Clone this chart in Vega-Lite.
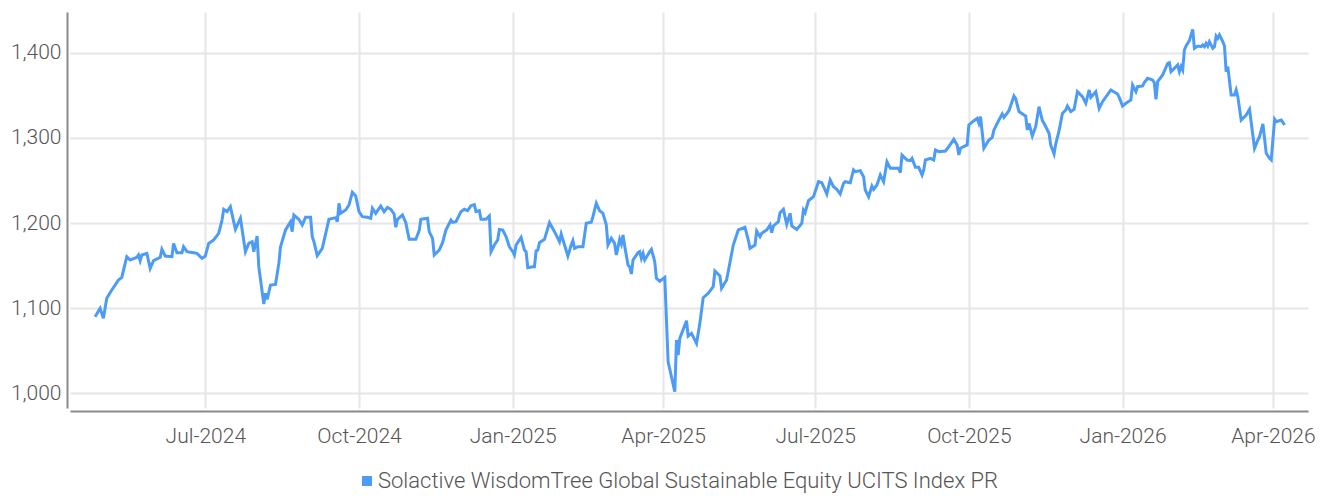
{
  "$schema": "https://vega.github.io/schema/vega-lite/v6.json",
  "width": 1238,
  "height": 396,
  "autosize": {"type": "none"},
  "padding": {"left": 70, "top": 12, "right": 22, "bottom": 88},
  "background": "white",
  "config": {
    "view": {"stroke": null},
    "font": "Roboto",
    "axis": {"labelFont": "Roboto", "labelFontSize": 21, "labelFontWeight": 300, "labelColor": "#555555", "gridColor": "#e6e6e6", "gridWidth": 2, "domainColor": "#8a8a8a", "domainWidth": 2, "ticks": false, "title": null}
  },
  "data": {"values": [
{"date":"2024-04-26","value":1089.8},{"date":"2024-04-29","value":1099.6},{"date":"2024-05-01","value":1087.9},{"date":"2024-05-03","value":1111.4},{"date":"2024-05-06","value":1121.2},{"date":"2024-05-08","value":1127},{"date":"2024-05-10","value":1133},{"date":"2024-05-12","value":1136},{"date":"2024-05-15","value":1160.4},{"date":"2024-05-17","value":1156.5},{"date":"2024-05-21","value":1159.6},{"date":"2024-05-22","value":1162.4},{"date":"2024-05-23","value":1155.7},{"date":"2024-05-24","value":1162.4},{"date":"2024-05-27","value":1164.3},{"date":"2024-05-29","value":1146.7},{"date":"2024-05-31","value":1155.7},{"date":"2024-06-04","value":1159.6},{"date":"2024-06-05","value":1169},{"date":"2024-06-07","value":1161.2},{"date":"2024-06-11","value":1160.4},{"date":"2024-06-12","value":1176},{"date":"2024-06-14","value":1165.1},{"date":"2024-06-17","value":1165},{"date":"2024-06-18","value":1172.1},{"date":"2024-06-20","value":1166.3},{"date":"2024-06-24","value":1165.1},{"date":"2024-06-26","value":1164.3},{"date":"2024-06-29","value":1158.4},{"date":"2024-07-01","value":1161.2},{"date":"2024-07-03","value":1176},{"date":"2024-07-06","value":1180},{"date":"2024-07-09","value":1187.9},{"date":"2024-07-11","value":1203.5},{"date":"2024-07-12","value":1216.1},{"date":"2024-07-14","value":1213.3},{"date":"2024-07-16","value":1219.2},{"date":"2024-07-19","value":1192.5},{"date":"2024-07-22","value":1205.5},{"date":"2024-07-25","value":1166.3},{"date":"2024-07-27","value":1176},{"date":"2024-07-29","value":1178},{"date":"2024-07-30","value":1166.3},{"date":"2024-08-01","value":1184.7},{"date":"2024-08-02","value":1148.6},{"date":"2024-08-05","value":1104.7},{"date":"2024-08-06","value":1117.3},{"date":"2024-08-07","value":1110.2},{"date":"2024-08-09","value":1127},{"date":"2024-08-12","value":1127.8},{"date":"2024-08-14","value":1152.5},{"date":"2024-08-15","value":1172.1},{"date":"2024-08-18","value":1191.8},{"date":"2024-08-21","value":1201.6},{"date":"2024-08-22","value":1189.8},{"date":"2024-08-23","value":1209.4},{"date":"2024-08-26","value":1204.3},{"date":"2024-08-28","value":1197.6},{"date":"2024-08-30","value":1206.7},{"date":"2024-09-02","value":1206.7},{"date":"2024-09-03","value":1184},{"date":"2024-09-04","value":1178},{"date":"2024-09-06","value":1161.6},{"date":"2024-09-09","value":1170.2},{"date":"2024-09-13","value":1204.3},{"date":"2024-09-17","value":1206.3},{"date":"2024-09-18","value":1201.6},{"date":"2024-09-19","value":1223.1},{"date":"2024-09-20","value":1211.4},{"date":"2024-09-23","value":1215.3},{"date":"2024-09-25","value":1221.2},{"date":"2024-09-27","value":1236.1},{"date":"2024-09-29","value":1231.8},{"date":"2024-10-01","value":1213.3},{"date":"2024-10-03","value":1207.4},{"date":"2024-10-06","value":1206.7},{"date":"2024-10-08","value":1205.5},{"date":"2024-10-09","value":1217.3},{"date":"2024-10-11","value":1211.4},{"date":"2024-10-14","value":1220},{"date":"2024-10-16","value":1213.3},{"date":"2024-10-18","value":1218.4},{"date":"2024-10-20","value":1216.1},{"date":"2024-10-22","value":1210.6},{"date":"2024-10-23","value":1195},{"date":"2024-10-24","value":1204.3},{"date":"2024-10-27","value":1209.4},{"date":"2024-10-29","value":1200.4},{"date":"2024-10-31","value":1180.8},{"date":"2024-11-04","value":1180.8},{"date":"2024-11-06","value":1191},{"date":"2024-11-07","value":1204.3},{"date":"2024-11-11","value":1205.5},{"date":"2024-11-12","value":1189.8},{"date":"2024-11-14","value":1182},{"date":"2024-11-15","value":1162.4},{"date":"2024-11-18","value":1168.2},{"date":"2024-11-20","value":1176.8},{"date":"2024-11-22","value":1191.8},{"date":"2024-11-25","value":1203.5},{"date":"2024-11-26","value":1200.8},{"date":"2024-11-28","value":1201.6},{"date":"2024-12-01","value":1213.3},{"date":"2024-12-03","value":1216.1},{"date":"2024-12-05","value":1214.5},{"date":"2024-12-07","value":1220.4},{"date":"2024-12-09","value":1221.6},{"date":"2024-12-10","value":1213.3},{"date":"2024-12-12","value":1214.5},{"date":"2024-12-13","value":1204.3},{"date":"2024-12-16","value":1204.3},{"date":"2024-12-18","value":1208.2},{"date":"2024-12-19","value":1166.3},{"date":"2024-12-21","value":1174.1},{"date":"2024-12-23","value":1180},{"date":"2024-12-24","value":1192.5},{"date":"2024-12-26","value":1191.8},{"date":"2024-12-28","value":1184},{"date":"2024-12-30","value":1172.1},{"date":"2025-01-01","value":1166.3},{"date":"2025-01-02","value":1162.4},{"date":"2025-01-03","value":1174.1},{"date":"2025-01-06","value":1183.1},{"date":"2025-01-08","value":1168.2},{"date":"2025-01-09","value":1166.3},{"date":"2025-01-10","value":1147.4},{"date":"2025-01-13","value":1148.6},{"date":"2025-01-14","value":1148.6},{"date":"2025-01-15","value":1167.4},{"date":"2025-01-16","value":1168.2},{"date":"2025-01-17","value":1176.8},{"date":"2025-01-20","value":1180.8},{"date":"2025-01-23","value":1200.4},{"date":"2025-01-26","value":1189.8},{"date":"2025-01-28","value":1182},{"date":"2025-01-29","value":1178},{"date":"2025-01-30","value":1187},{"date":"2025-02-01","value":1174.1},{"date":"2025-02-03","value":1161.2},{"date":"2025-02-05","value":1174.1},{"date":"2025-02-06","value":1179.2},{"date":"2025-02-07","value":1170.2},{"date":"2025-02-09","value":1172.1},{"date":"2025-02-12","value":1172.1},{"date":"2025-02-14","value":1199.6},{"date":"2025-02-17","value":1200.8},{"date":"2025-02-18","value":1207.4},{"date":"2025-02-20","value":1223.1},{"date":"2025-02-22","value":1214.5},{"date":"2025-02-24","value":1211.4},{"date":"2025-02-26","value":1197.6},{"date":"2025-02-27","value":1174.1},{"date":"2025-03-01","value":1182},{"date":"2025-03-03","value":1176},{"date":"2025-03-04","value":1162.4},{"date":"2025-03-06","value":1180.8},{"date":"2025-03-07","value":1175.3},{"date":"2025-03-08","value":1185.9},{"date":"2025-03-09","value":1172.9},{"date":"2025-03-11","value":1150.6},{"date":"2025-03-12","value":1148.6},{"date":"2025-03-13","value":1140},{"date":"2025-03-14","value":1156.5},{"date":"2025-03-17","value":1165.1},{"date":"2025-03-18","value":1166.3},{"date":"2025-03-19","value":1158.4},{"date":"2025-03-20","value":1164.3},{"date":"2025-03-21","value":1156.5},{"date":"2025-03-24","value":1166.3},{"date":"2025-03-25","value":1169},{"date":"2025-03-27","value":1154.5},{"date":"2025-03-28","value":1134.9},{"date":"2025-03-30","value":1131.5},{"date":"2025-04-02","value":1136},{"date":"2025-04-04","value":1036.8},{"date":"2025-04-08","value":1001.5},{"date":"2025-04-09","value":1062.4},{"date":"2025-04-10","value":1044.7},{"date":"2025-04-11","value":1064.3},{"date":"2025-04-15","value":1085.1},{"date":"2025-04-16","value":1067},{"date":"2025-04-18","value":1070.2},{"date":"2025-04-21","value":1058.4},{"date":"2025-04-23","value":1082},{"date":"2025-04-25","value":1112.2},{"date":"2025-04-28","value":1117.3},{"date":"2025-05-01","value":1125.1},{"date":"2025-05-02","value":1143.5},{"date":"2025-05-05","value":1137.6},{"date":"2025-05-06","value":1123.1},{"date":"2025-05-09","value":1132.9},{"date":"2025-05-13","value":1174.1},{"date":"2025-05-16","value":1191.8},{"date":"2025-05-20","value":1195},{"date":"2025-05-22","value":1180},{"date":"2025-05-23","value":1170.2},{"date":"2025-05-26","value":1174.1},{"date":"2025-05-27","value":1190.6},{"date":"2025-05-29","value":1184},{"date":"2025-05-30","value":1187.9},{"date":"2025-06-02","value":1191.8},{"date":"2025-06-04","value":1197.6},{"date":"2025-06-05","value":1188.6},{"date":"2025-06-06","value":1196.5},{"date":"2025-06-09","value":1201.6},{"date":"2025-06-10","value":1212.2},{"date":"2025-06-12","value":1216.1},{"date":"2025-06-14","value":1198.4},{"date":"2025-06-16","value":1211.4},{"date":"2025-06-17","value":1196.5},{"date":"2025-06-20","value":1192.5},{"date":"2025-06-23","value":1199.6},{"date":"2025-06-24","value":1215.3},{"date":"2025-06-25","value":1212.2},{"date":"2025-06-27","value":1226.2},{"date":"2025-06-30","value":1231},{"date":"2025-07-03","value":1248.6},{"date":"2025-07-05","value":1247.4},{"date":"2025-07-08","value":1234.1},{"date":"2025-07-10","value":1250.6},{"date":"2025-07-12","value":1242.7},{"date":"2025-07-14","value":1239.6},{"date":"2025-07-16","value":1234.1},{"date":"2025-07-18","value":1246.7},{"date":"2025-07-19","value":1248.6},{"date":"2025-07-22","value":1247.4},{"date":"2025-07-24","value":1262.4},{"date":"2025-07-25","value":1260.4},{"date":"2025-07-28","value":1261.6},{"date":"2025-07-30","value":1254.5},{"date":"2025-07-31","value":1238.8},{"date":"2025-08-02","value":1231},{"date":"2025-08-04","value":1243.5},{"date":"2025-08-05","value":1239.6},{"date":"2025-08-07","value":1244.7},{"date":"2025-08-09","value":1256.5},{"date":"2025-08-11","value":1248.6},{"date":"2025-08-13","value":1272.1},{"date":"2025-08-15","value":1264.3},{"date":"2025-08-20","value":1264.3},{"date":"2025-08-21","value":1259.2},{"date":"2025-08-22","value":1280},{"date":"2025-08-25","value":1274.1},{"date":"2025-08-27","value":1273.3},{"date":"2025-08-28","value":1276},{"date":"2025-08-30","value":1265.5},{"date":"2025-09-01","value":1265.5},{"date":"2025-09-03","value":1256.5},{"date":"2025-09-04","value":1262.4},{"date":"2025-09-05","value":1274.1},{"date":"2025-09-08","value":1276},{"date":"2025-09-10","value":1274.1},{"date":"2025-09-11","value":1285.9},{"date":"2025-09-13","value":1283.9},{"date":"2025-09-17","value":1284.7},{"date":"2025-09-19","value":1289.8},{"date":"2025-09-22","value":1298.4},{"date":"2025-09-24","value":1291.8},{"date":"2025-09-25","value":1280},{"date":"2025-09-26","value":1287.9},{"date":"2025-09-30","value":1291.8},{"date":"2025-10-01","value":1315.3},{"date":"2025-10-04","value":1320.4},{"date":"2025-10-06","value":1323.1},{"date":"2025-10-07","value":1317.3},{"date":"2025-10-08","value":1325.1},{"date":"2025-10-10","value":1287.9},{"date":"2025-10-13","value":1297.6},{"date":"2025-10-15","value":1300.8},{"date":"2025-10-16","value":1309.4},{"date":"2025-10-19","value":1321.2},{"date":"2025-10-21","value":1328.2},{"date":"2025-10-22","value":1324.3},{"date":"2025-10-25","value":1332.1},{"date":"2025-10-28","value":1349.4},{"date":"2025-10-29","value":1346.7},{"date":"2025-10-31","value":1331.2},{"date":"2025-11-03","value":1327.1},{"date":"2025-11-04","value":1325.9},{"date":"2025-11-05","value":1309.4},{"date":"2025-11-06","value":1317.3},{"date":"2025-11-08","value":1302.4},{"date":"2025-11-10","value":1313.3},{"date":"2025-11-11","value":1325.1},{"date":"2025-11-12","value":1336.8},{"date":"2025-11-14","value":1320.4},{"date":"2025-11-15","value":1317.3},{"date":"2025-11-18","value":1305.5},{"date":"2025-11-19","value":1291.8},{"date":"2025-11-21","value":1281.2},{"date":"2025-11-22","value":1292.9},{"date":"2025-11-24","value":1308.6},{"date":"2025-11-26","value":1328.8},{"date":"2025-11-28","value":1332.9},{"date":"2025-11-29","value":1337.6},{"date":"2025-12-01","value":1331},{"date":"2025-12-03","value":1333.8},{"date":"2025-12-05","value":1354.5},{"date":"2025-12-08","value":1348.6},{"date":"2025-12-10","value":1340.8},{"date":"2025-12-12","value":1356.5},{"date":"2025-12-13","value":1347.8},{"date":"2025-12-16","value":1354.5},{"date":"2025-12-18","value":1334.9},{"date":"2025-12-20","value":1342.7},{"date":"2025-12-25","value":1356.5},{"date":"2025-12-29","value":1351.8},{"date":"2025-12-30","value":1347.8},{"date":"2026-01-01","value":1337.6},{"date":"2026-01-03","value":1340.8},{"date":"2026-01-06","value":1344.7},{"date":"2026-01-07","value":1362.4},{"date":"2026-01-09","value":1354.5},{"date":"2026-01-10","value":1360.4},{"date":"2026-01-13","value":1361.2},{"date":"2026-01-14","value":1365.1},{"date":"2026-01-16","value":1370.2},{"date":"2026-01-19","value":1368.2},{"date":"2026-01-20","value":1365.1},{"date":"2026-01-21","value":1345.5},{"date":"2026-01-22","value":1366.3},{"date":"2026-01-25","value":1374.1},{"date":"2026-01-28","value":1387.8},{"date":"2026-01-29","value":1388.6},{"date":"2026-01-30","value":1378},{"date":"2026-02-02","value":1384},{"date":"2026-02-03","value":1385.9},{"date":"2026-02-04","value":1378},{"date":"2026-02-05","value":1384},{"date":"2026-02-06","value":1380},{"date":"2026-02-07","value":1403.5},{"date":"2026-02-08","value":1408.2},{"date":"2026-02-10","value":1414.5},{"date":"2026-02-12","value":1427.8},{"date":"2026-02-13","value":1405.5},{"date":"2026-02-15","value":1408.2},{"date":"2026-02-17","value":1407.4},{"date":"2026-02-18","value":1409.4},{"date":"2026-02-19","value":1407.4},{"date":"2026-02-20","value":1411.4},{"date":"2026-02-21","value":1408.2},{"date":"2026-02-22","value":1413.3},{"date":"2026-02-24","value":1405.5},{"date":"2026-02-25","value":1407.4},{"date":"2026-02-26","value":1420},{"date":"2026-02-27","value":1417.3},{"date":"2026-02-28","value":1421.2},{"date":"2026-03-02","value":1413.3},{"date":"2026-03-03","value":1408.2},{"date":"2026-03-04","value":1378},{"date":"2026-03-05","value":1384},{"date":"2026-03-07","value":1350.6},{"date":"2026-03-09","value":1350.6},{"date":"2026-03-10","value":1356.5},{"date":"2026-03-11","value":1348.6},{"date":"2026-03-13","value":1321.2},{"date":"2026-03-16","value":1327.1},{"date":"2026-03-18","value":1333.8},{"date":"2026-03-21","value":1287.9},{"date":"2026-03-23","value":1297.6},{"date":"2026-03-24","value":1301.6},{"date":"2026-03-26","value":1316.5},{"date":"2026-03-27","value":1299.6},{"date":"2026-03-28","value":1282},{"date":"2026-03-30","value":1276},{"date":"2026-03-31","value":1274.1},{"date":"2026-04-02","value":1322},{"date":"2026-04-03","value":1319.2},{"date":"2026-04-06","value":1321.2},{"date":"2026-04-08","value":1315.3}
  ]},
  "mark": {"type": "line", "strokeWidth": 3, "interpolate": "linear"},
  "encoding": {
    "x": {
      "field": "date", "type": "temporal",
      "scale": {"domain": ["2024-04-11", "2026-04-22"]},
      "axis": {
        "values": ["2024-07-01", "2024-10-01", "2025-01-01", "2025-04-01", "2025-07-01", "2025-10-01", "2026-01-01", "2026-04-01"],
        "format": "%b-%Y", "labelPadding": 14, "offset": 3, "labelFlush": false, "labelOverlap": false
      }
    },
    "y": {
      "field": "value", "type": "quantitative",
      "scale": {"domain": [982.4, 1448.2], "nice": false, "zero": false},
      "axis": {"values": [1000, 1100, 1200, 1300, 1400], "format": ",.0f", "labelPadding": 6, "offset": 3}
    },
    "color": {
      "datum": "Solactive WisdomTree Global Sustainable Equity UCITS Index PR",
      "scale": {"range": ["#4C9BF6"]},
      "legend": {
        "title": null, "orient": "none", "legendX": 286, "legendY": 458,
        "symbolType": "square", "symbolSize": 100,
        "labelFont": "Roboto", "labelFontSize": 22, "labelFontWeight": 300, "labelColor": "#555555", "labelLimit": 1000, "labelOffset": 0,
        "encode": {"symbols": {"update": {"fill": {"value": "#4C9BF6"}, "stroke": {"value": "#4C9BF6"}, "strokeWidth": {"value": 0}}}}
      }
    }
  }
}
